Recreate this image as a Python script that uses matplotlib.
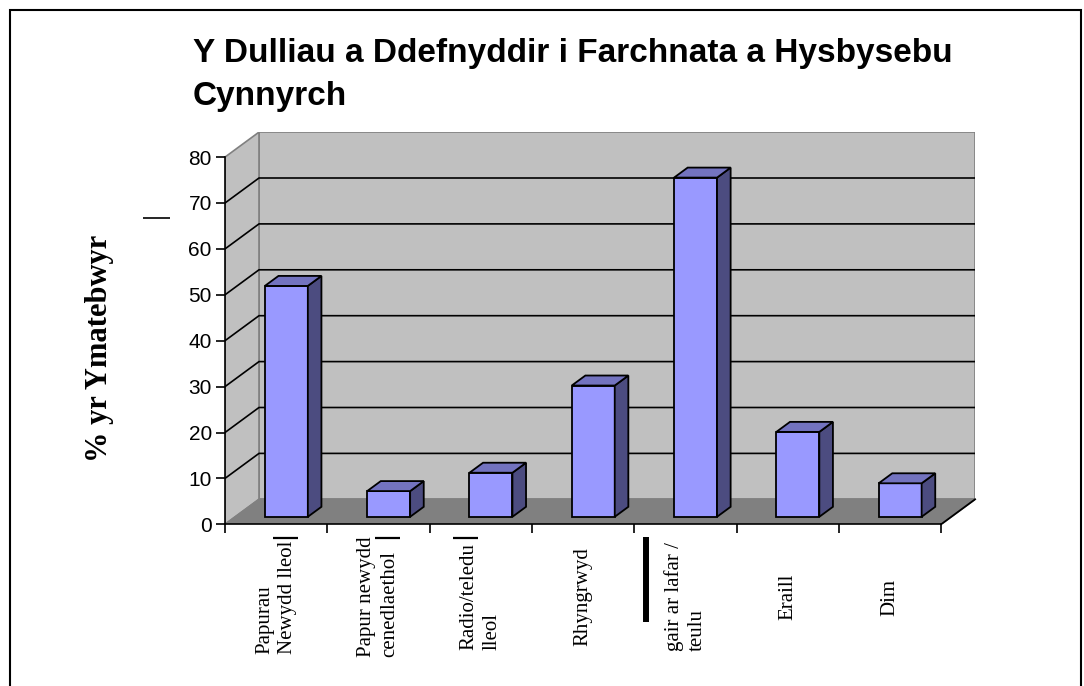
import matplotlib
matplotlib.use("Agg")
import matplotlib.pyplot as plt
from matplotlib.patches import Polygon, Rectangle
from matplotlib.lines import Line2D

# ---- data -------------------------------------------------------------
categories = [
    "Papurau\nNewydd lleol",
    "Papur newydd\ncenedlaethol",
    "Radio/teledu\nlleol",
    "Rhyngrwyd",
    "gair ar lafar /\nteulu",
    "Eraill",
    "Dim",
]
values = [50.3, 5.6, 9.6, 28.6, 73.9, 18.5, 7.3]
yticks = [0, 10, 20, 30, 40, 50, 60, 70, 80]
title = "Y Dulliau a Ddefnyddir i Farchnata a Hysbysebu\nCynnyrch"
ylabel = "% yr Ymatebwyr"

# ---- styling -----------------------------------------------------------
SANS = ["Liberation Sans", "Arial", "DejaVu Sans"]
SERIF = ["Liberation Serif", "Times New Roman", "DejaVu Serif"]
WALL = "#C0C0C0"
FLOOR = "#808080"
EDGE_GRAY = "#808080"
FRONT = "#9999FF"
TOP = "#7373BF"
SIDE = "#4C4C80"

W, H = 1084, 686
fig = plt.figure(figsize=(W / 100, H / 100), dpi=100)

# plot box geometry (pixels)
x0_px, y0_px = 225, 524.3       # front-left corner of the floor
cat_px = 102.3                  # width of one category
unit_px = 4.59                  # pixels per percentage point
depth_px = (34, 25)             # oblique depth of the 3-D box

n = len(categories)
ymax = yticks[-1]
DX = depth_px[0] / cat_px
DY = depth_px[1] / unit_px
ax_w = (n + DX) * cat_px
ax_h = (ymax + DY) * unit_px
ax = fig.add_axes([x0_px / W, (H - y0_px) / H, ax_w / W, ax_h / H])
ax.set_xlim(0, n + DX)
ax.set_ylim(0, ymax + DY)
ax.patch.set_visible(False)

# ---- walls and floor ----------------------------------------------------
back = Polygon([(DX, DY), (n + DX, DY), (n + DX, ymax + DY), (DX, ymax + DY)],
               closed=True, facecolor=WALL, edgecolor=EDGE_GRAY, lw=1.2, zorder=0.5)
side_wall = Polygon([(0, 0), (DX, DY), (DX, ymax + DY), (0, ymax)],
                    closed=True, facecolor=WALL, edgecolor=EDGE_GRAY, lw=1.2, zorder=0.5)
floor = Polygon([(0, 0), (n, 0), (n + DX, DY), (DX, DY)],
                closed=True, facecolor=FLOOR, edgecolor=EDGE_GRAY, lw=1.2, zorder=0.6)
for p in (back, side_wall, floor):
    ax.add_patch(p)
# dark right edge of the floor
ax.plot([n, n + DX], [0, DY], color="black", lw=1.3, zorder=0.7, clip_on=False)

# gridlines across the side wall and back wall
for t in yticks[1:-1]:
    ax.plot([0, DX, n + DX], [t, t + DY, t + DY], color="black", lw=1.2,
            zorder=0.8, solid_joinstyle="miter")

# ---- bars (oblique 3-D columns) ------------------------------------------
bw = 0.42
gap = (1 - bw) / 2
f0, f1 = 0.30, 0.70
ddx, ddy = (f1 - f0) * DX, (f1 - f0) * DY
for i, v in enumerate(values):
    fx0 = i + gap + f0 * DX
    fx1 = fx0 + bw
    fy0 = f0 * DY
    fy1 = fy0 + v
    ax.bar(fx0, v, width=bw, bottom=fy0, align="edge", color=FRONT,
           edgecolor="black", lw=1.3, zorder=3, joinstyle="miter")
    ax.add_patch(Polygon([(fx1, fy0), (fx1 + ddx, fy0 + ddy),
                          (fx1 + ddx, fy1 + ddy), (fx1, fy1)], closed=True,
                         facecolor=SIDE, edgecolor="black", lw=1.3, zorder=3,
                         joinstyle="miter"))
    ax.add_patch(Polygon([(fx0, fy1), (fx1, fy1), (fx1 + ddx, fy1 + ddy),
                          (fx0 + ddx, fy1 + ddy)], closed=True,
                         facecolor=TOP, edgecolor="black", lw=1.3, zorder=3,
                         joinstyle="miter"))

# ---- axes ---------------------------------------------------------------
for s in ("top", "right"):
    ax.spines[s].set_visible(False)
ax.spines["left"].set_bounds(0, ymax)
ax.spines["bottom"].set_bounds(0, n)
for s in ("left", "bottom"):
    ax.spines[s].set_linewidth(1.2)
    ax.spines[s].set_zorder(4)
ax.set_yticks(yticks)
ax.set_yticklabels([str(t) for t in yticks], fontfamily=SANS, fontsize=15)
ax.set_xticks(range(n + 1))
ax.set_xticklabels([""] * (n + 1))
ax.tick_params(direction="out", length=6.5, width=1.2, pad=3)

label_y = -(597 - y0_px) / unit_px
for i, c in enumerate(categories):
    ax.text(i + 0.5, label_y, c, rotation=90, ha="center", va="center",
            multialignment="left", fontfamily=SERIF, fontsize=15,
            linespacing=1.3, clip_on=False)

# ---- titles -------------------------------------------------------------
fig.text(193 / W, 1 - 38 / H, title, ha="left", va="top", fontfamily=SANS,
         fontsize=24, fontweight="bold", linespacing=1.52)
fig.text(100 / W, 1 - 348 / H, ylabel, rotation=90, ha="center", va="center",
         fontfamily=SERIF, fontsize=22, fontweight="bold")

# ---- small rule marks and frame -----------------------------------------
def px_line(xs, ys, lw):
    fig.add_artist(Line2D([x / W for x in xs], [1 - y / H for y in ys],
                          transform=fig.transFigure, color="black", lw=lw,
                          solid_capstyle="butt"))

px_line([143, 170], [217.5, 217.5], 1.2)
px_line([273, 298], [537.5, 537.5], 1.6)
px_line([375, 400], [537.5, 537.5], 1.6)
px_line([453, 478], [537.5, 537.5], 1.6)
px_line([646, 646], [537, 622], 4.3)

fig.add_artist(Rectangle((9.5 / W, -0.02), (1080.5 - 9.5) / W, 1 - 9.5 / H + 0.02,
                         transform=fig.transFigure, fill=False,
                         edgecolor="black", lw=1.5))

fig.savefig("out.png", dpi=100)
